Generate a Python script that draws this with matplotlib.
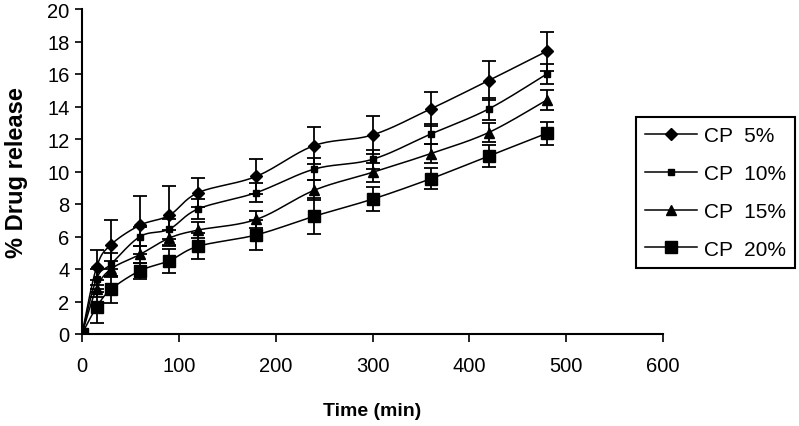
import matplotlib
matplotlib.use("Agg")
import matplotlib.pyplot as plt
from matplotlib.lines import Line2D
import numpy as np

plt.rcParams['font.family'] = ['Liberation Sans', 'DejaVu Sans']

time_min = [0, 15, 30, 60, 90, 120, 180, 240, 300, 360, 420, 480]

cp5 = [0, 4.1, 5.5, 6.7, 7.3, 8.7, 9.7, 11.6, 12.25, 13.85, 15.6, 17.4]
cp5_err = [0, 1.1, 1.5, 1.8, 1.8, 0.9, 1.1, 1.15, 1.15, 1.05, 1.2, 1.2]

cp10 = [0, 3.4, 4.3, 6.0, 6.45, 7.7, 8.7, 10.15, 10.75, 12.3, 13.85, 16.0]
cp10_err = [0, 0.6, 0.7, 0.6, 0.6, 0.6, 0.6, 0.7, 0.6, 0.6, 0.7, 0.6]

cp15 = [0, 2.8, 4.0, 4.9, 5.9, 6.4, 7.05, 8.85, 9.95, 11.1, 12.4, 14.4]
cp15_err = [0, 0.5, 0.5, 0.5, 0.5, 0.5, 0.5, 0.6, 0.6, 0.6, 0.6, 0.6]

cp20 = [0, 1.65, 2.75, 3.9, 4.5, 5.4, 6.1, 7.25, 8.3, 9.55, 10.95, 12.35]
cp20_err = [0, 0.95, 0.85, 0.5, 0.75, 0.8, 0.9, 1.1, 0.75, 0.65, 0.7, 0.7]

labels = ['CP  5%', 'CP  10%', 'CP  15%', 'CP  20%']
markers = ['D', 's', '^', 's']
msizes = [6, 5, 6.5, 9]


def smooth_curve(x, y, n=20):
    """Excel-style smoothed line (Bezier through the points)."""
    P = np.column_stack([x, y]).astype(float)
    out = [P[0]]
    for i in range(len(P) - 1):
        p0 = P[i - 1] if i > 0 else P[i]
        p1, p2 = P[i], P[i + 1]
        p3 = P[i + 2] if i + 2 < len(P) else P[i + 1]
        c1 = p1 + (p2 - p0) / 6.0
        c2 = p2 - (p3 - p1) / 6.0
        t = np.linspace(0, 1, n)[1:, None]
        seg = ((1 - t) ** 3) * p1 + 3 * ((1 - t) ** 2) * t * c1 + 3 * (1 - t) * t ** 2 * c2 + t ** 3 * p2
        out.extend(seg)
    out = np.array(out)
    return out[:, 0], out[:, 1]


fig = plt.figure(figsize=(7.99, 4.27), dpi=100)
ax = fig.add_axes([82/799, 1-335/427, (663-82)/799, (335-10)/427])

series = [(cp5, cp5_err), (cp10, cp10_err), (cp15, cp15_err), (cp20, cp20_err)]
handles = []
for (vals, errs), lab, mk, ms in zip(series, labels, markers, msizes):
    ax.errorbar(time_min, vals, yerr=errs, fmt='none', ecolor='black',
                elinewidth=1.3, capsize=4.8, capthick=1.3, zorder=2)
    sx, sy = smooth_curve(time_min, vals)
    ax.plot(sx, sy, color='black', lw=1.1, zorder=3)
    ax.plot(time_min, vals, linestyle='none', marker=mk, ms=ms,
            mfc='black', mec='black', zorder=4)
    handles.append(Line2D([], [], color='black', lw=1.1, marker=mk, ms=ms,
                          mfc='black', mec='black'))

ax.set_xlim(0, 600)
ax.set_ylim(0, 20)
ax.set_xticks(np.arange(0, 601, 100))
ax.set_yticks(np.arange(0, 21, 2))
ax.tick_params(axis='both', direction='out', width=1.2,
               labelsize=14.5, colors='black')
ax.tick_params(axis='x', length=6, pad=10)
ax.tick_params(axis='y', length=5, pad=4)
for side in ['top', 'right']:
    ax.spines[side].set_visible(False)
for side in ['left', 'bottom']:
    ax.spines[side].set_linewidth(1.5)

ax.set_xlabel('Time (min)', fontsize=14, fontweight='bold', labelpad=19)
ax.set_ylabel('% Drug release', fontsize=17, fontweight='bold', labelpad=14)

leg = fig.legend(handles=handles, labels=labels, loc='upper left',
                 bbox_to_anchor=(636/799, 1-118/427), borderaxespad=0,
                 frameon=True, fancybox=False, edgecolor='black',
                 framealpha=1, fontsize=15, handlelength=2.5,
                 labelspacing=0.9, handletextpad=0.3, borderpad=0.45)
leg.get_frame().set_linewidth(1.5)

fig.savefig('out.png', dpi=100)
